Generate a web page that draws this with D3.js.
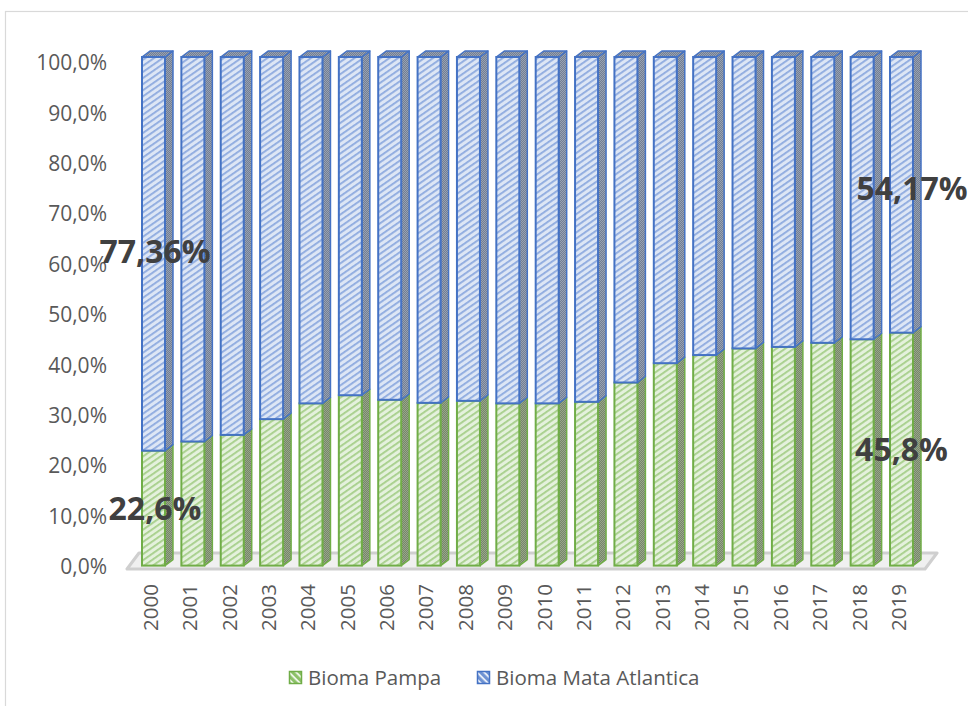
<!DOCTYPE html>
<html><head><meta charset="utf-8">
<script src="https://cdn.jsdelivr.net/npm/d3@7/dist/d3.min.js"></script>
<style>body{margin:0;background:#fff}svg{display:block}</style>
</head><body>
<script>
// ---------------- data ----------------
const years = ["2000","2001","2002","2003","2004","2005","2006","2007","2008","2009",
               "2010","2011","2012","2013","2014","2015","2016","2017","2018","2019"];
const pampa = [22.6,24.4,25.7,28.8,31.9,33.5,32.6,32.0,32.4,31.9,31.9,32.2,36.0,39.8,41.4,42.7,43.0,43.8,44.5,45.8];
const mata  = [77.4,75.6,74.3,71.2,68.1,66.5,67.4,68.0,67.6,68.1,68.1,67.8,64.0,60.2,58.6,57.3,57.0,56.2,55.5,54.2];
const seriesNames = ["Bioma Pampa","Bioma Mata Atlantica"];
const yTicks = [0,10,20,30,40,50,60,70,80,90,100];
const labelYears = ["2000","2019"];
const pampaLabels = ["22,6%","45,8%"];
const mataLabels  = ["77,36%","54,17%"];

// ---------------- layout / style ----------------
const W = 968, H = 706;
const DX = 8, DY = 6;
const COL = {
  pampa: {stroke:"#70ad47", base:"#e4f1dc", line:"#a6cf8a", side1:"#76866a", side2:"#98a68a", leg:"#8cc168"},
  mata:  {stroke:"#4472c4", base:"#dde6f5", line:"#8eaadf", side1:"#737f93", side2:"#97a1b3", leg:"#6f93d3"}
};
const svg = d3.select("body").append("svg").attr("width",W).attr("height",H)
  .style("font-family","'Open Sans', sans-serif");

const defs = svg.append("defs");
function makePatterns(key){
  const c = COL[key];
  const p = defs.append("pattern").attr("id","front-"+key).attr("patternUnits","userSpaceOnUse")
    .attr("width",5).attr("height",5).attr("patternTransform","rotate(-35)");
  p.append("rect").attr("width",5).attr("height",5).attr("fill",c.base);
  p.append("rect").attr("y",0).attr("width",5).attr("height",1.8).attr("fill",c.line);
  const s = defs.append("pattern").attr("id","side-"+key).attr("patternUnits","userSpaceOnUse")
    .attr("width",2).attr("height",2);
  s.append("rect").attr("width",2).attr("height",2).attr("fill",c.side1);
  s.append("rect").attr("width",1).attr("height",1).attr("fill",c.side2);
  s.append("rect").attr("x",1).attr("y",1).attr("width",1).attr("height",1).attr("fill",c.side2);
  const l = defs.append("pattern").attr("id","leg-"+key).attr("patternUnits","userSpaceOnUse")
    .attr("width",5).attr("height",5).attr("patternTransform","rotate(45)");
  l.append("rect").attr("width",5).attr("height",5).attr("fill",c.leg);
  l.append("rect").attr("width",5).attr("height",1.6).attr("fill","#ffffff");
}
makePatterns("pampa"); makePatterns("mata");

// chart border
svg.append("rect").attr("x",5.5).attr("y",11.5).attr("width",1000).attr("height",720)
  .attr("fill","none").attr("stroke","#d9d9d9").attr("stroke-width",1.2);

// scales
const x = d3.scaleBand().domain(years).range([142,913]).paddingInner(0.416).paddingOuter(0);
const y = d3.scaleLinear().domain([0,100]).range([565.6,57]);
const yAxisScale = d3.scaleLinear().domain([0,100]).range([567,63]);
const loc = d3.formatLocale({decimal:",", thousands:".", grouping:[3], currency:["R$",""]});
const fmt = loc.format(".1%");

// floor
const fx0 = x(years[0]) - 15, fx1 = x(years[years.length-1]) + x.bandwidth() + 12;
svg.append("polygon")
  .attr("points",[[fx0,569],[fx1,569],[fx1+DX+4,553],[fx0+DX+4,553]].map(p=>p.join(",")).join(" "))
  .attr("fill","#f0f0f0").attr("stroke","#cfcfcf").attr("stroke-width",3).attr("stroke-linejoin","round");

// y axis
const ya = svg.append("g").attr("transform","translate(107,0)")
  .call(d3.axisLeft(yAxisScale).tickValues(yTicks).tickSize(0).tickPadding(0).tickFormat(d=>fmt(d/100)));
ya.select(".domain").remove();
ya.selectAll("text").attr("fill","#595959").style("font-size","21px").style("font-family","'Open Sans', sans-serif");

// x axis
const xa = svg.append("g").attr("transform","translate(-3,584)")
  .call(d3.axisBottom(x).tickSize(0));
xa.select(".domain").remove();
xa.selectAll("text").attr("y",0).attr("x",0).attr("dy","0.36em").attr("transform","rotate(-90)")
  .style("text-anchor","end").attr("fill","#595959").style("font-size","20.5px")
  .style("font-family","'Open Sans', sans-serif");

// bars
function seg(g, key, x0, w, v0, v1, top){
  const c = COL[key];
  const yb = y(v0), yt = y(v1);
  g.append("polygon")
    .attr("points",[[x0+w,yb],[x0+w+DX,yb-DY],[x0+w+DX,yt-DY],[x0+w,yt]].map(p=>p.join(",")).join(" "))
    .attr("fill","url(#side-"+key+")").attr("stroke",c.stroke).attr("stroke-width",1.5).attr("stroke-linejoin","round");
  if(top){
    g.append("polygon")
      .attr("points",[[x0,yt],[x0+DX,yt-DY],[x0+w+DX,yt-DY],[x0+w,yt]].map(p=>p.join(",")).join(" "))
      .attr("fill","url(#side-"+key+")").attr("stroke",c.stroke).attr("stroke-width",1.5).attr("stroke-linejoin","round");
  }
  g.append("rect").attr("x",x0).attr("y",yt).attr("width",w).attr("height",yb-yt)
    .attr("fill","url(#front-"+key+")").attr("stroke",c.stroke).attr("stroke-width",2);
}
const bars = svg.append("g");
years.forEach((yr,i)=>{
  const g = bars.append("g");
  const x0 = x(yr), w = x.bandwidth();
  seg(g,"pampa",x0,w,0,pampa[i],false);
  seg(g,"mata",x0,w,pampa[i],pampa[i]+mata[i],true);
});

// data labels
const labelOffsets = {pampa:[1.5,0], mata:[1.5,10.5]};
const lab = svg.append("g").style("font-family","'Open Sans', sans-serif").style("font-weight","700")
  .style("font-size","32px").attr("fill","#404040").attr("text-anchor","middle");
labelYears.forEach((yr,k)=>{
  const i = years.indexOf(yr);
  const cx = x(yr) + x.bandwidth()/2;
  lab.append("text").attr("x",cx+labelOffsets.pampa[k]).attr("y",y(pampa[i]/2)).attr("dy","0.36em").text(pampaLabels[k]);
  lab.append("text").attr("x",cx+labelOffsets.mata[k]).attr("y",y(pampa[i]+mata[i]/2)-(k===1?6:2)).attr("dy","0.36em").text(mataLabels[k]);
});

// legend
const legendX = [289,477];
const keys = ["pampa","mata"];
const lg = svg.append("g");
seriesNames.forEach((n,i)=>{
  const g = lg.append("g").attr("transform",`translate(${legendX[i]},671)`);
  g.append("rect").attr("x",0.5).attr("y",0.5).attr("width",12).attr("height",12)
    .attr("fill","url(#leg-"+keys[i]+")").attr("stroke",COL[keys[i]].stroke).attr("stroke-width",1.5);
  g.append("text").attr("x",19).attr("y",6.5).attr("dy","0.36em").text(n)
    .attr("fill","#595959").style("font-size","20.5px");
});
</script>
</body></html>
